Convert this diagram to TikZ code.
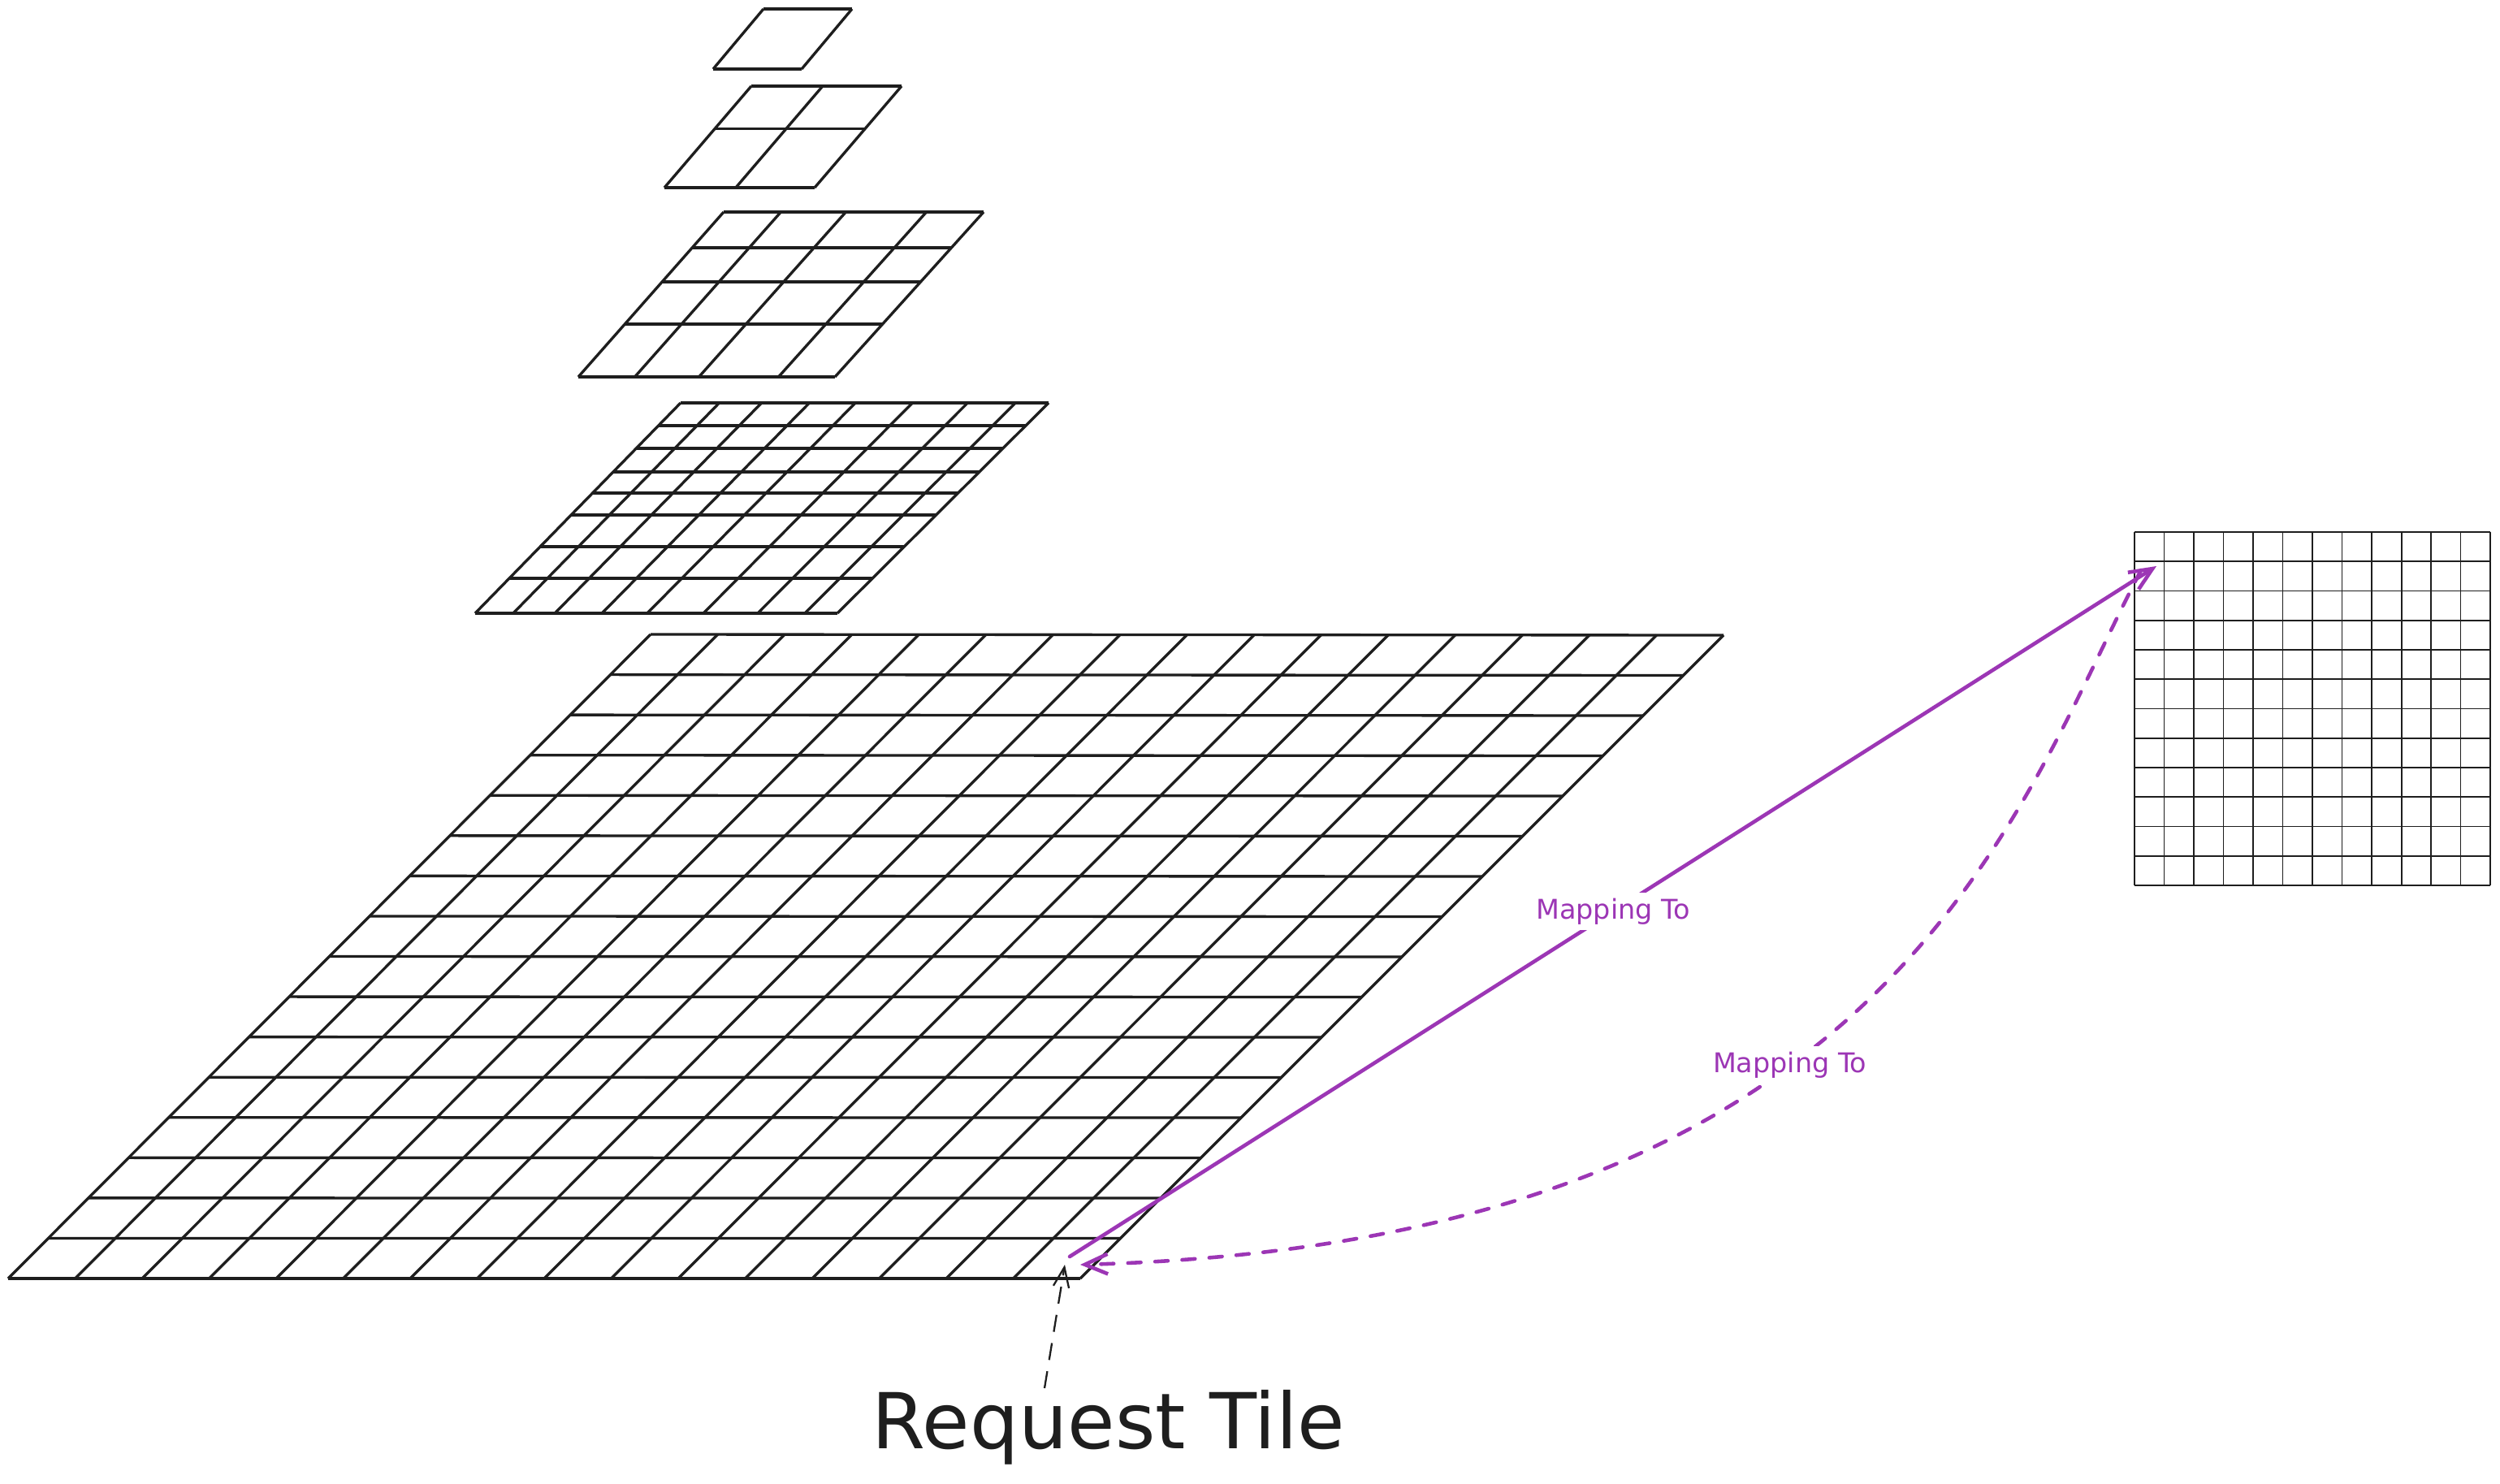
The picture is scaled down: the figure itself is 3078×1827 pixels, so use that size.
\documentclass[tikz,border=0pt]{standalone}
\usepackage{fontspec}
\setmainfont{DejaVu Sans}
\usepackage{xcolor}
\usepackage{tikz}
\usetikzlibrary{positioning}
\usetikzlibrary{calc}
\usetikzlibrary{arrows.meta}

\definecolor{inkblack}{HTML}{1E1E1E}
\definecolor{mapviolet}{HTML}{9C36B5}

\tikzset{
  gridline/.style={draw=inkblack, line width=0.95pt},
  finegrid/.style={draw=inkblack, line width=0.55pt},
  maparrow/.style={draw=mapviolet, line width=1.3pt, line cap=round,
    -{Straight Barb[length=8pt,width=7pt]}},
  mapdashed/.style={maparrow, dash pattern=on 4.5pt off 5pt},
  ptrarrow/.style={draw=inkblack, line width=0.65pt, dash pattern=on 6pt off 4pt,
    -{Straight Barb[length=7pt,width=5.5pt]}},
  maplabel/.style={text=mapviolet, fill=white, inner sep=2pt,
    font=\fontsize{9.5}{11}\selectfont},
  reqtext/.style={text=inkblack, font=\fontsize{27}{32}\selectfont}
}

% grid on a quadrilateral: #1 BL, #2 BR, #3 TR, #4 TL, #5 cells, #6 style
\newcommand{\tilegrid}[6]{%
  \foreach \i in {0,...,#5} {
    \draw[#6] ($(#1)!\i/#5!(#2)$) -- ($(#4)!\i/#5!(#3)$);
    \draw[#6] ($(#1)!\i/#5!(#4)$) -- ($(#2)!\i/#5!(#3)$);
  }
}

% same, with hand placed lines: #5 column fractions, #6 row fractions (from top)
\newcommand{\skewgrid}[7]{%
  \foreach \c in {#5}
    \draw[#7] ($(#1)!\c!(#2)$) -- ($(#4)!\c!(#3)$);
  \foreach \r in {#6}
    \draw[#7] ($(#4)!\r!(#1)$) -- ($(#3)!\r!(#2)$);
}

\begin{document}
\begin{tikzpicture}[x=0.01cm, y=-0.01cm]

% Page area
\path[fill=white, use as bounding box] (0,0) rectangle (3078,1827);

% Pyramid levels, from the top (1 tile) to the bottom (16x16 tiles)
\coordinate (lz0a) at (878,85);   \coordinate (lz0b) at (987,85);
\coordinate (lz0c) at (1049,11);  \coordinate (lz0d) at (940,11);
\tilegrid{lz0a}{lz0b}{lz0c}{lz0d}{1}{gridline}

\coordinate (lz1a) at (818,231);  \coordinate (lz1b) at (1003,231);
\coordinate (lz1c) at (1110,106); \coordinate (lz1d) at (925,106);
\skewgrid{lz1a}{lz1b}{lz1c}{lz1d}{0,0.475,1}{0,0.42,1}{gridline}

\coordinate (lz2a) at (712,464);  \coordinate (lz2b) at (1028,464);
\coordinate (lz2c) at (1211,261); \coordinate (lz2d) at (891,261);
\skewgrid{lz2a}{lz2b}{lz2c}{lz2d}{0,0.22,0.47,0.78,1}{0,0.217,0.424,0.68,1}{gridline}

\coordinate (lz3a) at (585,755);  \coordinate (lz3b) at (1031,755);
\coordinate (lz3c) at (1291,496); \coordinate (lz3d) at (838,496);
\skewgrid{lz3a}{lz3b}{lz3c}{lz3d}{0,0.105,0.22,0.35,0.475,0.63,0.78,0.91,1}%
  {0,0.108,0.216,0.328,0.429,0.533,0.684,0.834,1}{gridline}

\coordinate (lz4a) at (10,1574);  \coordinate (lz4b) at (1330,1574);
\coordinate (lz4c) at (2122,782); \coordinate (lz4d) at (801,781);
\tilegrid{lz4a}{lz4b}{lz4c}{lz4d}{16}{gridline}

% Tile image on the right
\coordinate (imga) at (2628,1090); \coordinate (imgb) at (3066,1090);
\coordinate (imgc) at (3066,655);  \coordinate (imgd) at (2628,655);
\tilegrid{imga}{imgb}{imgc}{imgd}{12}{finegrid}

% Points in the requested tile and in the image
\coordinate (reqsrc) at (1317,1547);
\coordinate (reqdst) at (1330,1557);
\coordinate (reqptr) at (1311,1557);
\coordinate (imgdst) at (2655,697);
\coordinate (imgsrc) at (2636,702);

% Label under the grid
\node[reqtext, anchor=base] (reqlabel) at (1365,1783) {Request Tile};
\coordinate (reqfoot) at (1286,1709);
\draw[ptrarrow] (reqfoot) -- (reqptr);

% Mapping arrows
\draw[maparrow] (reqsrc) -- node[maplabel, pos=0.5] (mapone) {Mapping To} (imgdst);
\draw[mapdashed] (imgsrc) .. controls (2480,1000) and (2330,1530) .. 
  node[maplabel, pos=0.58] (maptwo) {Mapping To} (reqdst);

\end{tikzpicture}
\end{document}
